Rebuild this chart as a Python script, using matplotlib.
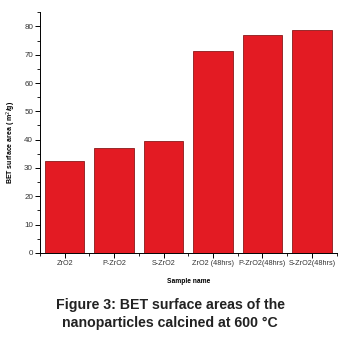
import matplotlib.pyplot as plt
from matplotlib.ticker import MultipleLocator, FixedLocator

samples = ['ZrO2', 'P-ZrO2', 'S-ZrO2', 'ZrO2 (48hrs)', 'P-ZrO2(48hrs)', 'S-ZrO2(48hrs)']
bet_area = [32.4, 37.2, 39.4, 71.5, 76.9, 78.8]

plt.rcParams['font.family'] = ['Liberation Sans', 'DejaVu Sans']

fig = plt.figure(figsize=(3.4, 3.43), dpi=100)
ax = fig.add_axes([0.1176, 0.263, 0.8724, 0.701])

pos = list(range(1, len(samples) + 1))
ax.bar(pos, bet_area, width=0.8, color='#e31b23', edgecolor='#8a1a1a', linewidth=0.6)

ax.set_xlim(0.5, 6.5)
ax.set_ylim(0, 85)
ax.set_xticks(pos)
ax.set_xticklabels(samples, fontsize=5.2, color='#333333')
ax.xaxis.set_minor_locator(FixedLocator([p + 0.5 for p in range(0, 7)]))
ax.yaxis.set_major_locator(MultipleLocator(10))
ax.yaxis.set_minor_locator(MultipleLocator(5))
ax.tick_params(axis='y', labelsize=5.8, labelcolor='#333333')
ax.tick_params(which='major', length=3.5, width=0.7, direction='out', pad=1.5)
ax.tick_params(which='minor', length=2, width=0.6, direction='out')

for side in ['top', 'right']:
    ax.spines[side].set_visible(False)
for side in ['left', 'bottom']:
    ax.spines[side].set_linewidth(0.7)

ax.set_ylabel('BET surface area ( m$^2$/g)', fontsize=5, fontweight='bold')
ax.yaxis.set_label_coords(-0.075, 0.46)
ax.set_xlabel('Sample name', fontsize=4.8, fontweight='bold', labelpad=8)

fig.text(0.5, 0.085, 'Figure 3: BET surface areas of the\nnanoparticles calcined at 600 \u00b0C',
         ha='center', va='center', fontsize=10.2, fontweight='bold', color='#222222',
         linespacing=1.4)

fig.savefig('out.png', dpi=100)
